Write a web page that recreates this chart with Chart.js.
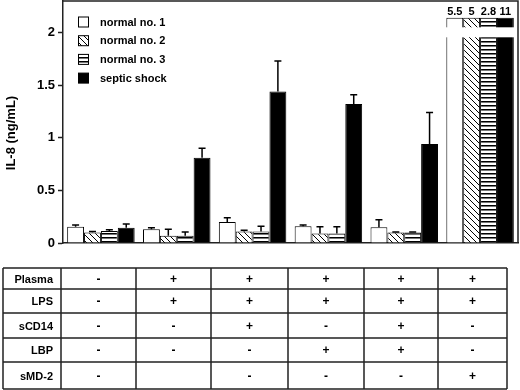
<!DOCTYPE html>
<html><head><meta charset="utf-8">
<script src="https://cdn.jsdelivr.net/npm/chart.js@4/dist/chart.umd.min.js"></script>
<style>html,body{margin:0;padding:0;background:#fff;overflow:hidden}</style>
</head><body>
<canvas id="c" width="520" height="390" style="width:520px;height:390px;display:block"></canvas>
<script>
// ---- data ----
const groups = ['1', '2', '3', '4', '5', '6'];
const seriesNames = ['normal no. 1', 'normal no. 2', 'normal no. 3', 'septic shock'];
const normal1 = [0.155, 0.13, 0.20, 0.16, 0.15, 5.5];
const normal1Err = [0.015, 0.015, 0.04, 0.01, 0.07, null];
const normal2 = [0.10, 0.07, 0.11, 0.09, 0.10, 5];
const normal2Err = [0.01, 0.06, 0.01, 0.065, 0.005, null];
const normal3 = [0.115, 0.07, 0.11, 0.09, 0.10, 2.8];
const normal3Err = [0.01, 0.035, 0.05, 0.065, 0.005, null];
const septic = [0.145, 0.81, 1.44, 1.32, 0.94, 11];
const septicErr = [0.035, 0.09, 0.29, 0.09, 0.30, null];
const yTickValues = [0, 0.5, 1, 1.5, 2];
const yTitle = 'IL-8 (ng/mL)';
const rowLabels = ['Plasma', 'LPS', 'sCD14', 'LBP', 'sMD-2'];
const rowPlasma = ['-', '+', '+', '+', '+', '+'];
const rowLPS = ['-', '+', '+', '+', '+', '+'];
const rowCD14 = ['-', '-', '+', '-', '+', '-'];
const rowLBP = ['-', '-', '-', '+', '+', '-'];
const rowMD2 = ['-', '', '-', '-', '-', '+'];

// ---- layout / style constants ----
const FONT = '"Liberation Sans", Arial, sans-serif';
const Y_MAX = 2.3;
const BREAK_CAP = 2.14;     // axis value where broken bars end
const BREAK_HI = 2.05, BREAK_LO = 1.955;
const TABLE_COLS = [3, 61, 136, 211, 288, 364, 438, 507];
const TABLE_ROWS = [268, 289, 313, 338, 362, 389];

const seriesValues = [normal1, normal2, normal3, septic];
const seriesErrs = [normal1Err, normal2Err, normal3Err, septicErr];
const tableRows = [rowPlasma, rowLPS, rowCD14, rowLBP, rowMD2];

function makePattern(kind) {
  const c = document.createElement('canvas');
  const g = c.getContext('2d');
  if (kind === 'diag') {
    c.width = 6; c.height = 6;
    g.fillStyle = '#fff'; g.fillRect(0, 0, 6, 6);
    g.strokeStyle = '#000'; g.lineWidth = 1;
    g.beginPath();
    g.moveTo(-1, -1); g.lineTo(7, 7);
    g.moveTo(-1, 5); g.lineTo(1, 7);
    g.moveTo(5, -1); g.lineTo(7, 1);
    g.stroke();
  } else {
    c.width = 4; c.height = 4;
    g.fillStyle = '#fff'; g.fillRect(0, 0, 4, 4);
    g.fillStyle = '#000'; g.fillRect(0, 1, 4, 1);
    g.fillStyle = '#777'; g.fillRect(0, 2, 4, 1);
  }
  return g.createPattern(c, 'repeat');
}
const fills = ['#ffffff', makePattern('diag'), makePattern('horiz'), '#000000'];

const datasets = seriesNames.map((name, k) => ({
  label: name,
  data: seriesValues[k].map(v => Math.min(v, BREAK_CAP)),
  backgroundColor: fills[k],
  borderColor: '#000',
  borderWidth: 1,
  borderSkipped: 'bottom',
  categoryPercentage: 0.89,
  barPercentage: 1.0
}));

const overlay = {
  id: 'overlay',
  afterDatasetsDraw(chart) {
    const ctx = chart.ctx, ys = chart.scales.y, ca = chart.chartArea;
    ctx.save();
    // error bars (upper only)
    ctx.strokeStyle = '#000'; ctx.lineWidth = 1.5;
    seriesErrs.forEach((errs, k) => {
      const meta = chart.getDatasetMeta(k);
      errs.forEach((e, i) => {
        if (e == null) return;
        const el = meta.data[i];
        const yt = ys.getPixelForValue(seriesValues[k][i] + e);
        ctx.beginPath();
        ctx.moveTo(el.x, el.y); ctx.lineTo(el.x, yt);
        ctx.moveTo(el.x - 3.5, yt); ctx.lineTo(el.x + 3.5, yt);
        ctx.stroke();
      });
    });
    // axis break on bars exceeding the scale
    const last = groups.length - 1;
    const first = chart.getDatasetMeta(0).data[last];
    const lastEl = chart.getDatasetMeta(3).data[last];
    const bl = first.x - first.width / 2 - 2, br = lastEl.x + lastEl.width / 2 + 2;
    const yA = ys.getPixelForValue(BREAK_HI), yB = ys.getPixelForValue(BREAK_LO);
    ctx.fillStyle = '#fff';
    ctx.fillRect(bl, yA, br - bl, yB - yA);
    // value labels over broken bars
    ctx.fillStyle = '#000';
    ctx.font = 'bold 11px ' + FONT;
    ctx.textAlign = 'center'; ctx.textBaseline = 'alphabetic';
    seriesValues.forEach((vals, k) => {
      if (vals[last] > BREAK_CAP) {
        const el = chart.getDatasetMeta(k).data[last];
        ctx.fillText(String(vals[last]), el.x, el.y - 3);
      }
    });
    // frame top & right
    ctx.strokeStyle = '#222'; ctx.lineWidth = 1.5;
    ctx.beginPath();
    ctx.moveTo(ca.left, ca.top); ctx.lineTo(ca.right, ca.top); ctx.lineTo(ca.right, ca.bottom);
    ctx.stroke();
    // legend
    ctx.font = 'bold 11px ' + FONT;
    ctx.textAlign = 'left'; ctx.textBaseline = 'middle';
    seriesNames.forEach((name, k) => {
      const cy = 22 + k * 18.7;
      ctx.fillStyle = fills[k];
      ctx.fillRect(78.5, cy - 5, 10, 10);
      ctx.strokeStyle = '#000'; ctx.lineWidth = 1;
      ctx.strokeRect(78.5, cy - 5, 10, 10);
      ctx.fillStyle = '#000';
      ctx.fillText(name, 100, cy + 0.5);
    });
    // y-axis title
    ctx.save();
    ctx.translate(11, 133);
    ctx.rotate(-Math.PI / 2);
    ctx.font = 'bold 13px ' + FONT;
    ctx.textAlign = 'center'; ctx.textBaseline = 'middle';
    ctx.fillText(yTitle, 0, 0);
    ctx.restore();
    // condition table
    ctx.strokeStyle = '#222'; ctx.lineWidth = 1.5;
    ctx.beginPath();
    TABLE_ROWS.forEach(y => { ctx.moveTo(TABLE_COLS[0], y); ctx.lineTo(TABLE_COLS[TABLE_COLS.length - 1], y); });
    TABLE_COLS.forEach(x => { ctx.moveTo(x, TABLE_ROWS[0]); ctx.lineTo(x, TABLE_ROWS[TABLE_ROWS.length - 1]); });
    ctx.stroke();
    ctx.fillStyle = '#000';
    rowLabels.forEach((lab, r) => {
      const cy = (TABLE_ROWS[r] + TABLE_ROWS[r + 1]) / 2 + 1;
      ctx.font = 'bold 11px ' + FONT;
      ctx.textAlign = 'right';
      ctx.fillText(lab, TABLE_COLS[1] - 8, cy);
      ctx.font = 'bold 12px ' + FONT;
      ctx.textAlign = 'center';
      tableRows[r].forEach((s, c) => {
        if (!s) return;
        const cx = (TABLE_COLS[c + 1] + TABLE_COLS[c + 2]) / 2;
        ctx.fillText(s, cx, cy);
      });
    });
    ctx.restore();
  }
};

new Chart(document.getElementById('c'), {
  type: 'bar',
  data: { labels: groups, datasets },
  options: {
    responsive: false,
    animation: false,
    devicePixelRatio: 1,
    layout: { padding: { top: 1, right: 2, left: 0, bottom: 147 } },
    plugins: { legend: { display: false }, tooltip: { enabled: false } },
    scales: {
      x: {
        ticks: { display: false },
        grid: { display: false },
        border: { display: true, color: '#222', width: 1.5 },
        afterFit(s) { s.height = 0; s.paddingLeft = 0; s.paddingRight = 0; }
      },
      y: {
        min: 0, max: Y_MAX,
        afterBuildTicks(s) { s.ticks = yTickValues.map(v => ({ value: v })); },
        ticks: { color: '#000', font: { family: FONT, size: 13, weight: 'bold' }, padding: 3,
                 callback: v => String(v) },
        grid: { drawOnChartArea: false, drawTicks: true, tickLength: 5, color: '#222', tickWidth: 1.5 },
        border: { display: true, color: '#222', width: 1.5 },
        afterFit(s) { s.width = 63; s.paddingTop = 0; s.paddingBottom = 0; }
      }
    }
  },
  plugins: [overlay]
});
</script>
</body></html>
